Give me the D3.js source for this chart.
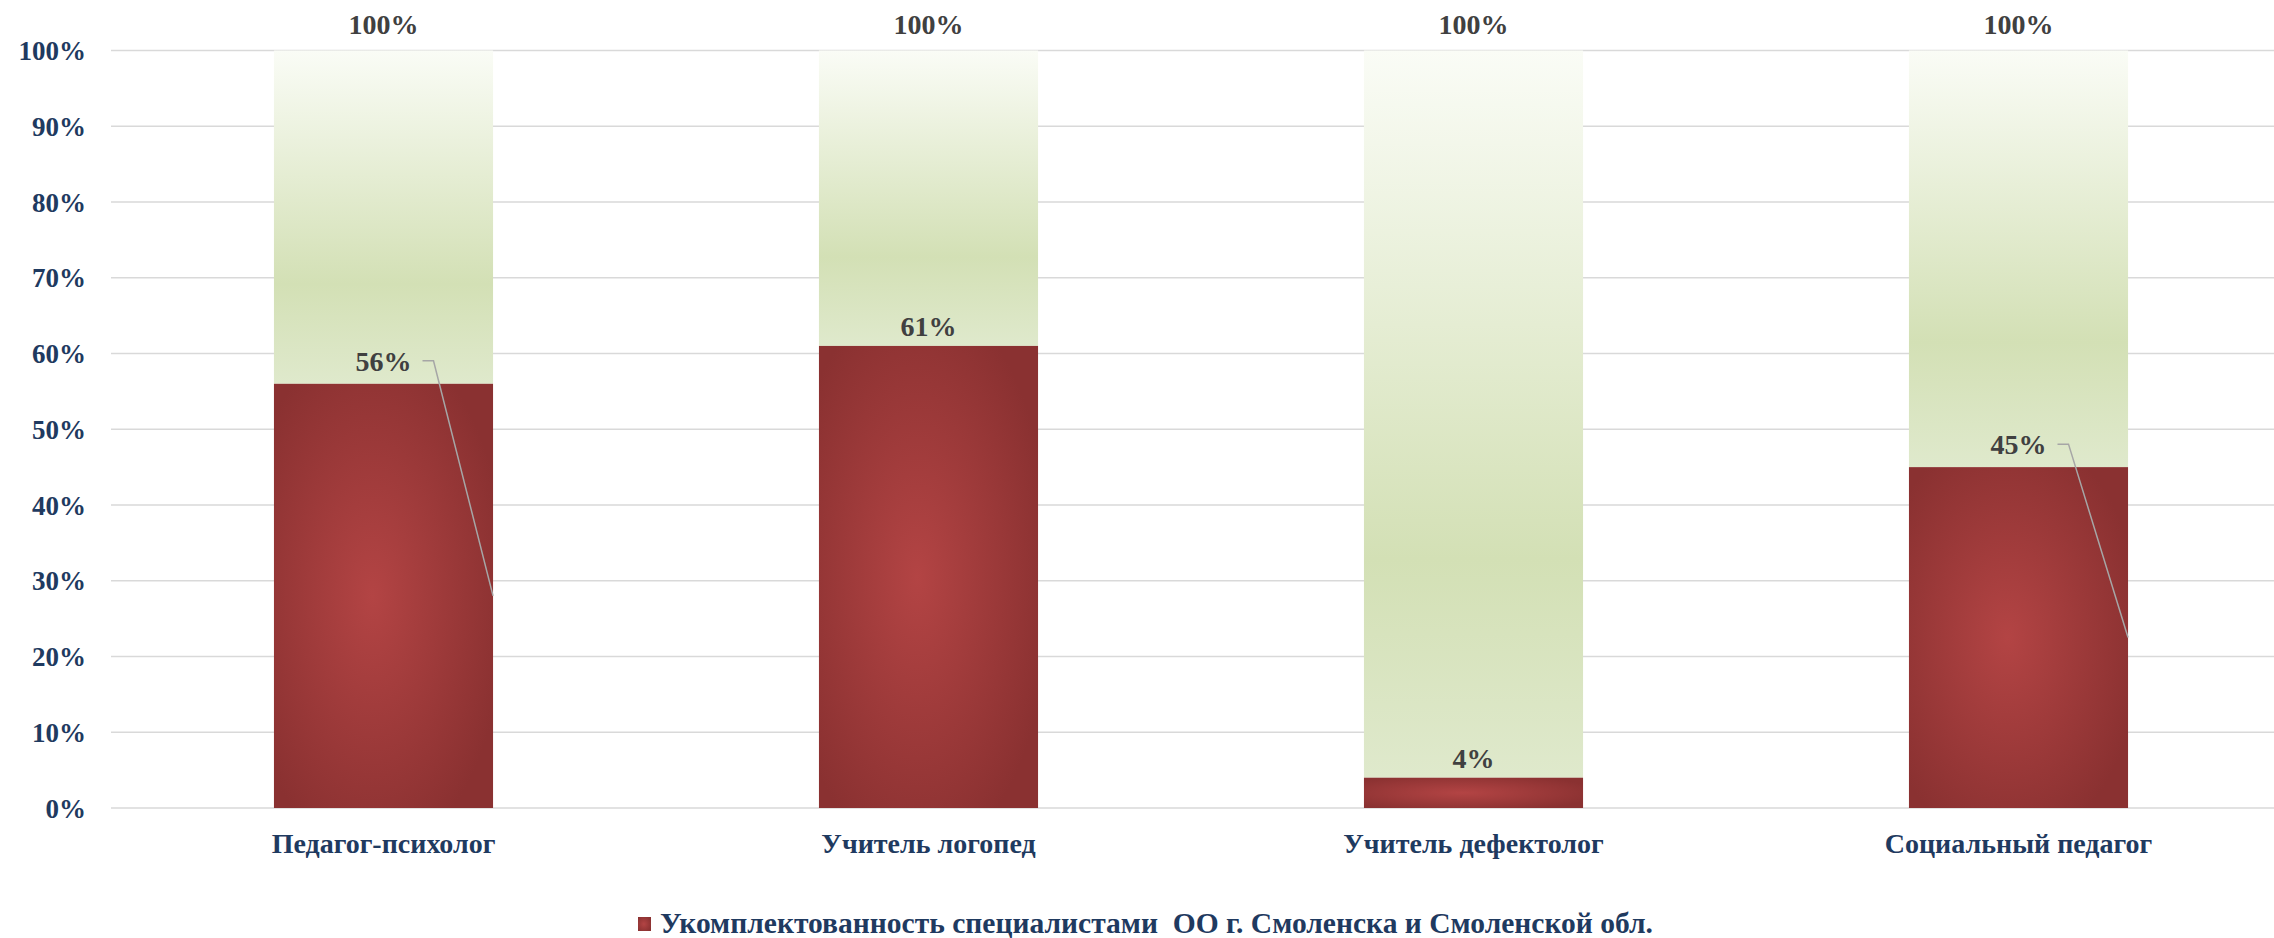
<!DOCTYPE html>
<html>
<head>
<meta charset="utf-8">
<script src="https://cdn.jsdelivr.net/npm/d3@7"></script>
<style>
  html, body { margin: 0; padding: 0; background: #fff; }
  svg { display: block; font-family: "Liberation Serif", "Times New Roman", serif; font-weight: bold; }
</style>
</head>
<body>
<div id="chart"></div>
<script>
(function () {
    'use strict'

    // data
    var categories = ['Педагог-психолог', 'Учитель логопед', 'Учитель дефектолог', 'Социальный педагог']
    var staffed = [56, 61, 4, 45]
    var total = [100, 100, 100, 100]
    var leader = [true, false, false, true]
    var yTicks = [0, 10, 20, 30, 40, 50, 60, 70, 80, 90, 100]
    var legendLabel = 'Укомплектованность специалистами  ОО г. Смоленска и Смоленской обл.'

    var W = 2274, H = 938
    var left = 111, right = 2291, top = 50.5, bottom = 808

    var svg = d3.select('#chart').append('svg')
        .attr('width', W)
        .attr('height', H)

    var defs = svg.append('defs')

    var red = defs.append('radialGradient')
        .attr('id', 'redFill')
        .attr('cx', 0.45).attr('cy', 0.5).attr('r', 0.62)
    red.append('stop').attr('offset', 0).attr('stop-color', '#b34444')
    red.append('stop').attr('offset', 1).attr('stop-color', '#8a3131')

    var green = defs.append('linearGradient')
        .attr('id', 'greenFill')
        .attr('x1', 0).attr('y1', 0).attr('x2', 0).attr('y2', 1)
    green.append('stop').attr('offset', 0).attr('stop-color', '#fafcf6')
    green.append('stop').attr('offset', 0.7).attr('stop-color', '#d3e0b5')
    green.append('stop').attr('offset', 1).attr('stop-color', '#dfe9cc')

    var x = d3.scaleBand()
        .domain(categories)
        .range([left, right])
        .paddingInner(0.598)
        .paddingOuter(0.299)

    var y = d3.scaleLinear()
        .domain([0, 100])
        .range([bottom, top])

    // gridlines
    svg.append('g').selectAll('line')
        .data(yTicks).enter()
        .append('line')
        .attr('x1', left).attr('x2', right)
        .attr('y1', function (d) { return y(d) })
        .attr('y2', function (d) { return y(d) })
        .attr('stroke', '#d9d9d9')
        .attr('stroke-width', 1.4)

    // y axis labels
    var yAxis = svg.append('g')
        .attr('transform', 'translate(' + (left - 25) + ',0)')
        .call(d3.axisLeft(y).tickValues(yTicks).tickSize(0).tickFormat(function (d) { return d + '%' }))
    yAxis.select('.domain').remove()
    yAxis.selectAll('text')
        .attr('x', 0)
        .attr('dy', '0.34em')
        .style('font-family', '"Liberation Serif", serif')
        .style('font-weight', 'bold')
        .style('font-size', '27px')
        .style('fill', '#1f3a60')

    var rows = categories.map(function (c, i) {
        return { cat: c, v: staffed[i], t: total[i], leader: leader[i] }
    })

    // upper (remaining) segment
    svg.append('g').selectAll('rect')
        .data(rows).enter()
        .append('rect')
        .attr('x', function (d) { return x(d.cat) })
        .attr('width', x.bandwidth())
        .attr('y', function (d) { return y(d.t) })
        .attr('height', function (d) { return y(d.v) - y(d.t) })
        .attr('fill', 'url(#greenFill)')

    // staffed segment
    svg.append('g').selectAll('rect')
        .data(rows).enter()
        .append('rect')
        .attr('x', function (d) { return x(d.cat) })
        .attr('width', x.bandwidth())
        .attr('y', function (d) { return y(d.v) })
        .attr('height', function (d) { return y(0) - y(d.v) })
        .attr('fill', 'url(#redFill)')

    // total labels
    svg.append('g').selectAll('text')
        .data(rows).enter()
        .append('text')
        .attr('x', function (d) { return x(d.cat) + x.bandwidth() / 2 })
        .attr('y', function (d) { return y(d.t) - 17 })
        .attr('text-anchor', 'middle')
        .style('font-size', '28px')
        .style('fill', '#404040')
        .text(function (d) { return d.t + '%' })

    // value labels
    var vl = svg.append('g').selectAll('g')
        .data(rows).enter()
        .append('g')

    vl.append('text')
        .attr('x', function (d) { return x(d.cat) + x.bandwidth() / 2 })
        .attr('y', function (d) { return y(d.v) - (d.leader ? 13 : 10) })
        .attr('text-anchor', 'middle')
        .style('font-size', '28px')
        .style('fill', '#404040')
        .text(function (d) { return d.v + '%' })

    vl.filter(function (d) { return d.leader })
        .append('polyline')
        .attr('points', function (d) {
            var cx = x(d.cat) + x.bandwidth() / 2
            var ly = y(d.v) - 23
            return [[cx + 39, ly], [cx + 50, ly], [x(d.cat) + x.bandwidth(), y(d.v / 2)]].join(' ')
        })
        .attr('fill', 'none')
        .attr('stroke', '#a6a6a6')
        .attr('stroke-width', 1.5)

    // category labels
    svg.append('g').selectAll('text')
        .data(categories).enter()
        .append('text')
        .attr('x', function (d) { return x(d) + x.bandwidth() / 2 })
        .attr('y', bottom + 45)
        .attr('text-anchor', 'middle')
        .style('font-size', '28px')
        .style('fill', '#1f3a60')
        .text(function (d) { return d })

    // legend
    var legend = svg.append('g').attr('transform', 'translate(638,917)')
    legend.append('rect')
        .attr('width', 13).attr('height', 14)
        .attr('fill', 'url(#redFill)')
    legend.append('text')
        .attr('x', 22)
        .attr('y', 16)
        .attr('textLength', 993)
        .attr('lengthAdjust', 'spacingAndGlyphs')
        .style('white-space', 'pre')
        .style('font-size', '29px')
        .style('fill', '#1f3a60')
        .text(legendLabel)
})()
</script>
</body>
</html>
